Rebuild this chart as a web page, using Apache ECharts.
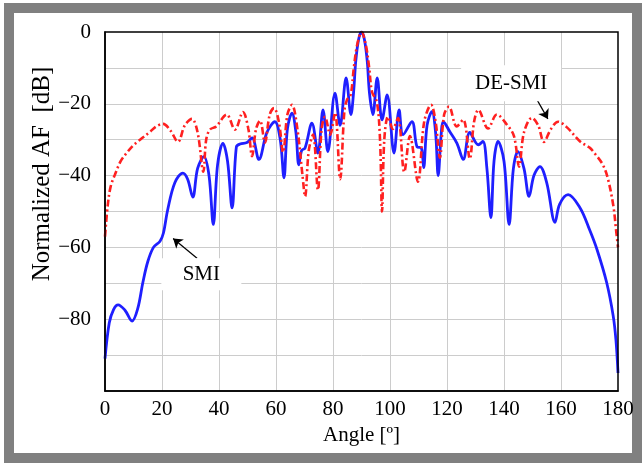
<!DOCTYPE html>
<html>
<head>
<meta charset="utf-8">
<script src="https://cdn.jsdelivr.net/npm/echarts@6/dist/echarts.min.js"></script>
<style>
  html, body { margin: 0; padding: 0; background: #fff; }
  #frame { position: absolute; left: 4px; top: 3px; width: 618px; height: 440px; border: 10px solid #808080; background: #fff; }
  #chart { position: absolute; left: 0; top: 0; width: 643px; height: 463px; }
</style>
</head>
<body>
<div id="frame"></div>
<div id="chart"></div>
<script>
// Tick labels
const xTicks = [0, 20, 40, 60, 80, 100, 120, 140, 160, 180];
const yTicks = [0, -20, -40, -60, -80];

// SMI series: [angle (deg), normalized AF (dB)]
const smi = [
  [0,-91],[1.5,-81],[3,-77.3],[4.6,-76],[7,-77.5],[9.5,-80.5],[11.5,-77],[13.3,-69.7],[15,-64],[17,-60],
  [19.3,-58.3],[20.5,-56],[22,-49.5],[24.5,-42],[27.3,-39.3],[29,-41],[30.8,-46],[32.5,-38],[34.7,-34.7],
  [36.5,-40],[38,-53.6],[39.5,-37],[41.4,-31],[43,-36],[44.6,-49],[46.1,-32],[47.4,-31.2],[49.8,-30.8],
  [51.6,-29.5],[54,-35.5],[56.8,-28],[59.6,-25],[61.5,-30],[62.8,-40.6],[64,-27],[65.6,-22.6],[67,-28],
  [68,-37],[69,-33],[70.2,-32.3],[72.6,-25.4],[74.7,-33.7],[76.5,-21.7],[78.2,-33.3],[80.7,-17],[82.5,-26],
  [84.6,-12.8],[86.3,-23],[87.2,-17],[88,-8],[89,-2],[90,0],[91,-2],[92,-8],[92.8,-17],[94,-23],
  [95.5,-12.8],[97.2,-24.5],[99,-17.5],[101.4,-33.7],[103.2,-21.7],[104.6,-28.6],[107.7,-25],[109.5,-32],
  [111,-32.3],[111.8,-37.8],[113,-26],[114.7,-22.2],[116,-28],[116.9,-40],[118,-28],[118.7,-25],[121,-27.8],
  [123.5,-31],[125.7,-35.5],[128,-28],[131,-31.4],[132.6,-30.5],[134,-38],[135.4,-51.7],[136.5,-36],
  [137.9,-30.5],[140,-36],[141.8,-53.6],[143.3,-38],[144.9,-33.3],[147,-38],[148.8,-45.8],[150.5,-40],
  [152.6,-37.5],[155,-42],[157.9,-53],[159.5,-48],[162.5,-45.3],[166.7,-49],[170,-55],[172.6,-60.5],
  [176,-69.7],[178.3,-79],[179.3,-86],[180,-95]
];

// DE-SMI series: [angle (deg), normalized AF (dB)]
const deSmi = [
  [0,-57],[1,-48],[2,-43],[3.5,-39.7],[5.5,-36],[7.6,-33.7],[10,-31.5],[12.3,-30],[15.8,-27.8],[18,-26.3],
  [20.4,-25.6],[23,-27.5],[25.6,-30.6],[28,-26],[30.5,-24.2],[32.5,-28],[34.5,-38.9],[35.5,-30],[36.8,-27.2],
  [39,-26.3],[42.7,-23],[45.6,-27.2],[48.4,-22.3],[50.3,-27],[51.6,-34.6],[53,-27],[54.4,-24.7],[56.1,-30.8],
  [57.8,-23],[59.3,-21.2],[61,-25],[62.5,-33.5],[64,-23],[65.6,-20.3],[67.5,-27],[69.3,-40],[70.2,-45.8],
  [71.5,-33],[73,-28.6],[74.7,-44],[76,-27],[77.2,-23.6],[79,-28.6],[80.7,-22.5],[82.5,-41],[84,-22],
  [84.9,-18.9],[86.2,-17.5],[87.3,-10],[88.5,-3.5],[90,0],[91.5,-3.5],[92.7,-10],[93.7,-16.7],[95.4,-19.5],
  [96.5,-30],[97.2,-50],[98,-30],[99.3,-23.6],[101,-27],[102.8,-24],[105,-39],[107,-29],[109.8,-41.7],
  [112,-25],[114.4,-20.3],[116,-25],[117.5,-35],[119,-23],[120.7,-20.8],[123.4,-26.3],[125.7,-24.4],
  [128,-35.3],[129.5,-25],[131,-21.7],[134.4,-26.9],[137.5,-23],[141,-25.8],[143.5,-29],[145.3,-37.5],
  [147,-28],[149.8,-23.9],[152,-26],[154,-30.6],[156.5,-27],[159,-25],[162,-26.5],[166.7,-30.5],[170,-32.2],
  [172,-34],[174.7,-37],[176.5,-41],[178.4,-48.6],[179.3,-55],[180,-60]
];

// Annotation anchors in data coordinates
const deSmiLabelAt = [142.5, -14.3];
const deSmiArrow = [[151.6, -18.9], [155.4, -24.2]];
const smiLabelAt = [33.8, -67.5];
const smiArrow = [[32.3, -63], [23.9, -57.5]];

const FONT = '"Liberation Serif", "Times New Roman", serif';
const chart = echarts.init(document.getElementById('chart'), null, { renderer: 'canvas' });

const GRID = { left: 105, right: 25, top: 32, bottom: 72 };

chart.setOption({
  animation: false,
  backgroundColor: 'transparent',
  textStyle: { fontFamily: FONT, color: '#000' },
  grid: Object.assign({ show: false }, GRID),
  xAxis: {
    type: 'value', min: 0, max: 180, interval: 20,
    name: 'Angle [º]', nameLocation: 'middle', nameGap: 32,
    nameTextStyle: { fontFamily: FONT, fontSize: 21, color: '#000' },
    axisLine: { show: true, onZero: false, lineStyle: { color: '#000', width: 1.5 } },
    axisTick: { show: false },
    axisLabel: { fontFamily: FONT, fontSize: 21, color: '#000', margin: 8,
      formatter: v => xTicks.includes(v) ? String(v) : '' },
    splitLine: { show: true, showMinLine: false, showMaxLine: false, lineStyle: { color: '#cccccc', width: 1 } }
  },
  yAxis: {
    type: 'value', min: -100, max: 0, interval: 10,
    axisLine: { show: true, onZero: false, lineStyle: { color: '#000', width: 1.5 } },
    axisTick: { show: false },
    axisLabel: { fontFamily: FONT, fontSize: 21, color: '#000', margin: 14,
      formatter: v => yTicks.includes(v) ? (v < 0 ? '\u2212' + Math.abs(v) : String(v)) : '' },
    splitLine: { show: true, showMinLine: false, showMaxLine: false, lineStyle: { color: '#cccccc', width: 1 } }
  },
  graphic: [
    {
      type: 'text', x: 42, y: 174, rotation: Math.PI / 2,
      style: { text: 'Normalized AF  [dB]', fontFamily: FONT, fontSize: 25, fill: '#000', align: 'center', verticalAlign: 'middle' }
    },
    {
      type: 'rect', z: 100, silent: true,
      shape: { x: GRID.left, y: GRID.top, width: 643 - GRID.left - GRID.right, height: 463 - GRID.top - GRID.bottom },
      style: { fill: 'none', stroke: '#000', lineWidth: 1.5 }
    }
  ],
  series: [
    {
      name: 'SMI', type: 'line', data: smi, showSymbol: false, smooth: 0.35,
      lineStyle: { color: '#1f1fff', width: 2.8 },
      z: 3,
      markLine: {
        silent: true, symbol: ['none', 'arrow'], symbolSize: 9,
        lineStyle: { color: '#000', width: 1.2, type: 'solid' },
        label: { show: false },
        data: [[{ coord: smiArrow[0] }, { coord: smiArrow[1] }]]
      },
      markPoint: {
        silent: true,
        data: [{ coord: smiLabelAt, symbol: 'rect', symbolSize: [80, 32],
          itemStyle: { color: '#fff' },
          label: { show: true, position: 'inside', formatter: 'SMI', fontFamily: FONT, fontSize: 21, color: '#000' } }]
      }
    },
    {
      name: 'DE-SMI', type: 'line', data: deSmi, showSymbol: false, smooth: 0.35,
      lineStyle: { color: '#ff2020', width: 2.6, type: [7, 3, 2, 3] },
      z: 4,
      markLine: {
        silent: true, symbol: ['none', 'arrow'], symbolSize: 9,
        lineStyle: { color: '#000', width: 1.2, type: 'solid' },
        label: { show: false },
        data: [[{ coord: deSmiArrow[0] }, { coord: deSmiArrow[1] }]]
      },
      markPoint: {
        silent: true,
        data: [{ coord: deSmiLabelAt, symbol: 'rect', symbolSize: [100, 36],
          itemStyle: { color: '#fff' },
          label: { show: true, position: 'inside', formatter: 'DE-SMI', fontFamily: FONT, fontSize: 21, color: '#000' } }]
      }
    }
  ]
});
</script>
</body>
</html>
